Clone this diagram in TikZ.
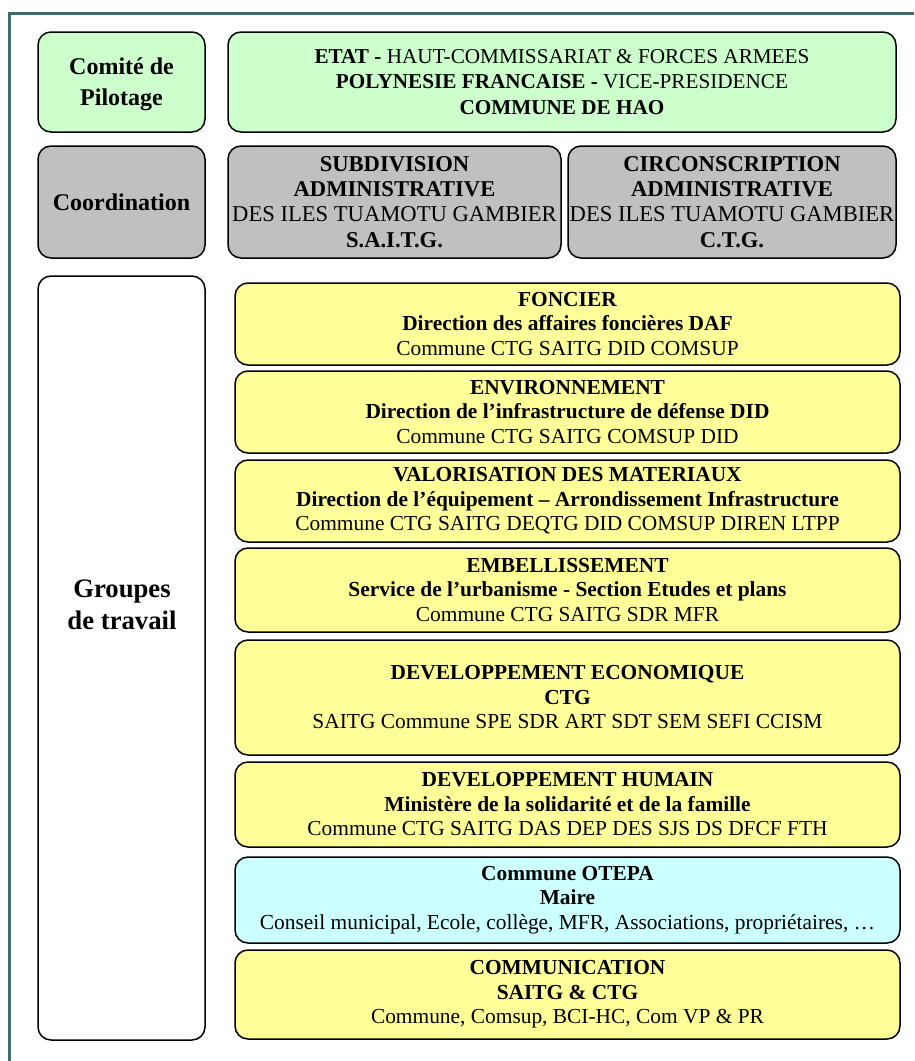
\documentclass[tikz,border=0pt]{standalone}
\usepackage{fontspec}
\setmainfont{Liberation Serif}
\definecolor{framec}{HTML}{3E6B6B}
\definecolor{greenf}{HTML}{CCFFCC}
\definecolor{grayf}{HTML}{C0C0C0}
\definecolor{yellowf}{HTML}{FFFF99}
\definecolor{cyanf}{HTML}{CCFFFF}
\begin{document}
\begin{tikzpicture}[x=1pt,y=-1pt,
  box/.style={draw=black,line width=1.5pt,rounded corners=13pt,inner sep=0pt,align=center,
    font=\fontsize{21.4}{24.5}\selectfont},
  side/.style={font=\fontsize{24}{31}\selectfont\bfseries},
  gbox/.style={box,fill=greenf},
  grbox/.style={box,fill=grayf},
  ybox/.style={box,fill=yellowf,minimum width=665pt},
  cbox/.style={box,fill=cyanf,minimum width=665pt},
  framestyle/.style={draw=framec,line width=3pt}]
\useasboundingbox (0,0) rectangle (914,1061);
\coordinate (fa) at (9.5,1061);
\coordinate (fb) at (9.5,13);
\coordinate (fc) at (914,13);
\draw[framestyle] (fa) -- (fb) -- (fc);

\node[gbox,minimum width=167pt,minimum height=100pt] (pil) at (121.5,82) {};
\node[side,align=center,inner sep=0pt] (pillab) at (121.5,84) {Comité de\\Pilotage};
\node[gbox,minimum width=668pt,minimum height=100pt,font=\fontsize{21.2}{25.5}\selectfont] (etat) at (562,82)
  {\textbf{ETAT -} HAUT-COMMISSARIAT \& FORCES ARMEES\\
   \textbf{POLYNESIE FRANCAISE -} VICE-PRESIDENCE\\
   \textbf{COMMUNE DE HAO}};

\node[grbox,side,minimum width=167pt,minimum height=112pt] (coord) at (121.5,202) {Coordination};
\node[grbox,minimum width=333pt,minimum height=112pt,font=\fontsize{22.6}{25.2}\selectfont] (saitg) at (394.5,202)
  {\textbf{SUBDIVISION}\\ \textbf{ADMINISTRATIVE}\\ DES ILES TUAMOTU GAMBIER\\ \textbf{S.A.I.T.G.}};
\node[grbox,minimum width=328pt,minimum height=112pt,font=\fontsize{22.6}{25.2}\selectfont] (ctg) at (732,202)
  {\textbf{CIRCONSCRIPTION}\\ \textbf{ADMINISTRATIVE}\\ DES ILES TUAMOTU GAMBIER\\ \textbf{C.T.G.}};

\node[box,fill=white,minimum width=167pt,minimum height=764pt] (grp) at (121.5,658) {};
\node[font=\fontsize{26.7}{32}\selectfont\bfseries,align=center,inner sep=0pt] (grplab) at (122,605) {Groupes\\de travail};

\node[ybox,minimum height=82pt] (fon) at (567.5,324)
  {\textbf{FONCIER}\\ \textbf{Direction des affaires foncières DAF}\\ Commune CTG SAITG DID COMSUP};
\node[ybox,minimum height=82pt] (env) at (567.5,412)
  {\textbf{ENVIRONNEMENT}\\ \textbf{Direction de l’infrastructure de défense DID}\\ Commune CTG SAITG COMSUP DID};
\node[ybox,minimum height=82pt] (val) at (567.5,501)
  {\textbf{VALORISATION DES MATERIAUX}\\ \textbf{Direction de l’équipement – Arrondissement Infrastructure}\\ Commune CTG SAITG DEQTG DID COMSUP DIREN LTPP};
\node[ybox,minimum height=84pt] (emb) at (567.5,590)
  {\textbf{EMBELLISSEMENT}\\ \textbf{Service de l’urbanisme - Section Etudes et plans}\\ Commune CTG SAITG SDR MFR};
\node[ybox,minimum height=115pt] (eco) at (567.5,697.5)
  {\textbf{DEVELOPPEMENT ECONOMIQUE}\\ \textbf{CTG}\\ SAITG Commune SPE SDR ART SDT SEM SEFI CCISM};
\node[ybox,minimum height=85pt] (hum) at (567.5,804.5)
  {\textbf{DEVELOPPEMENT HUMAIN}\\ \textbf{Ministère de la solidarité et de la famille}\\ Commune CTG SAITG DAS DEP DES SJS DS DFCF FTH};
\node[cbox,minimum height=86pt] (otepa) at (567.5,900)
  {\textbf{Commune OTEPA}\\ \textbf{Maire}\\ Conseil municipal, Ecole, collège, MFR, Associations, propriétaires, …};
\node[ybox,minimum height=89pt] (com) at (567.5,994.5)
  {\textbf{COMMUNICATION}\\ \textbf{SAITG \& CTG}\\ Commune, Comsup, BCI-HC, Com VP \& PR};
\end{tikzpicture}
\end{document}
